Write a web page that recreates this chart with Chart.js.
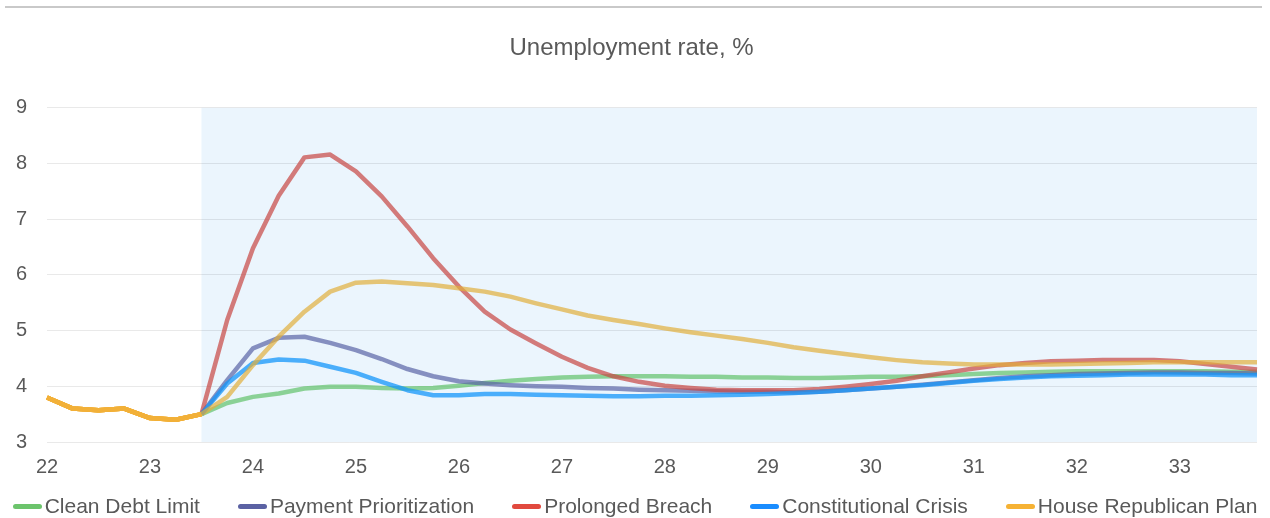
<!DOCTYPE html>
<html>
<head>
<meta charset="utf-8">
<title>Unemployment rate, %</title>
<script src="https://cdn.jsdelivr.net/npm/chart.js@4"></script>
<style>
  html, body { margin: 0; padding: 0; background: #ffffff; }
  #wrap { position: relative; width: 1270px; height: 518px; overflow: hidden; font-family: "Liberation Sans", Arial, sans-serif; }
  #topRule { position: absolute; left: 5px; top: 6px; width: 1257px; height: 2px; background: #c9c9c9; }
  #chart { position: absolute; left: 0; top: 0; }
  #legend { position: absolute; left: 0; top: 494px; width: 1270px; height: 24px; display: flex; justify-content: center; gap: 38px; }
  .item { display: flex; align-items: center; font-size: 21px; line-height: 24px; color: #595959; white-space: nowrap; }
  .swatch { width: 29px; height: 5px; border-radius: 3px; margin-right: 3px; }
</style>
</head>
<body>
<div id="wrap">
  <div id="topRule"></div>
  <canvas id="chart" width="1270" height="518"></canvas>
  <div id="legend"></div>
</div>
<script>
// Calendar years shown on the horizontal axis (two-digit), one category per quarter
const years = ['22', '23', '24', '25', '26', '27', '28', '29', '30', '31', '32', '33'];
const quarters = ['Q1', 'Q2', 'Q3', 'Q4'];
const periods = years.flatMap(y => quarters.map(q => y + ' ' + q));

// Projection period starts here (shaded)
const forecastStart = '23 Q3';

const seriesNames = ['Clean Debt Limit', 'Payment Prioritization', 'Prolonged Breach', 'Constitutional Crisis', 'House Republican Plan'];

// Unemployment rate, %, by quarter
const cleanDebtLimit = [
  3.80, 3.60, 3.57, 3.60, 3.43, 3.40, 3.50, 3.70, 3.81, 3.87, 3.96, 3.99,
  3.99, 3.97, 3.96, 3.97, 4.01, 4.06, 4.10, 4.13, 4.16, 4.17, 4.18, 4.18,
  4.18, 4.17, 4.17, 4.16, 4.16, 4.15, 4.15, 4.16, 4.17, 4.17, 4.18, 4.20,
  4.22, 4.24, 4.25, 4.26, 4.27, 4.27, 4.27, 4.27, 4.27, 4.27, 4.26, 4.26
];
const paymentPrioritization = [
  3.80, 3.60, 3.57, 3.60, 3.43, 3.40, 3.50, 4.11, 4.68, 4.87, 4.89, 4.78,
  4.65, 4.49, 4.31, 4.18, 4.09, 4.05, 4.02, 4.00, 3.99, 3.97, 3.96, 3.94,
  3.93, 3.92, 3.91, 3.90, 3.90, 3.89, 3.90, 3.93, 3.96, 3.99, 4.03, 4.07,
  4.11, 4.15, 4.18, 4.20, 4.22, 4.23, 4.24, 4.25, 4.25, 4.24, 4.24, 4.23
];
const prolongedBreach = [
  3.80, 3.60, 3.57, 3.60, 3.43, 3.40, 3.50, 5.19, 6.48, 7.42, 8.11, 8.16,
  7.86, 7.41, 6.87, 6.30, 5.79, 5.34, 5.02, 4.77, 4.53, 4.33, 4.18, 4.08,
  4.01, 3.97, 3.94, 3.93, 3.93, 3.93, 3.95, 3.99, 4.04, 4.10, 4.18, 4.25,
  4.32, 4.38, 4.42, 4.45, 4.46, 4.47, 4.47, 4.47, 4.45, 4.40, 4.35, 4.30
];
const constitutionalCrisis = [
  3.80, 3.60, 3.57, 3.60, 3.43, 3.40, 3.50, 4.05, 4.42, 4.48, 4.46, 4.35,
  4.24, 4.08, 3.93, 3.84, 3.84, 3.86, 3.86, 3.85, 3.84, 3.83, 3.82, 3.82,
  3.83, 3.83, 3.84, 3.85, 3.86, 3.88, 3.90, 3.93, 3.96, 3.99, 4.02, 4.06,
  4.10, 4.13, 4.16, 4.18, 4.19, 4.20, 4.21, 4.21, 4.21, 4.21, 4.20, 4.20
];
const houseRepublicanPlan = [
  3.80, 3.60, 3.57, 3.60, 3.43, 3.40, 3.50, 3.81, 4.38, 4.89, 5.34, 5.70,
  5.86, 5.88, 5.85, 5.82, 5.76, 5.70, 5.61, 5.49, 5.38, 5.27, 5.19, 5.12,
  5.04, 4.97, 4.91, 4.85, 4.78, 4.70, 4.64, 4.58, 4.52, 4.47, 4.43, 4.41,
  4.39, 4.39, 4.39, 4.39, 4.40, 4.41, 4.42, 4.43, 4.43, 4.43, 4.43, 4.43
];

// Vertical axis range and tick values
const yTicks = [3, 4, 5, 6, 7, 8, 9];

const seriesValues = [cleanDebtLimit, paymentPrioritization, prolongedBreach, constitutionalCrisis, houseRepublicanPlan];
const lineColors = [
  'rgba(100,195,110,0.72)',
  'rgba(90,100,165,0.70)',
  'rgba(200,70,65,0.70)',
  'rgba(20,150,250,0.75)',
  'rgba(225,175,60,0.70)'
];
const legendColors = ['#6cc46c', '#5b62a3', '#e1493e', '#1a8dff', '#f6b234'];
const historyColor = '#f2b038';

const textGray = '#595959';
const fontFamily = '"Liberation Sans", Arial, sans-serif';
const forecastIndex = periods.indexOf(forecastStart);

// Light blue band behind the projection period
const forecastBand = {
  id: 'forecastBand',
  beforeDraw(chart) {
    const { ctx, chartArea, scales } = chart;
    const x0 = scales.x.getPixelForValue(forecastIndex);
    ctx.save();
    ctx.fillStyle = '#ebf5fd';
    ctx.fillRect(x0, chartArea.top, chartArea.right - x0, chartArea.bottom - chartArea.top);
    ctx.restore();
  }
};

const datasets = seriesNames.map((name, i) => ({
  label: name,
  data: seriesValues[i],
  borderColor: lineColors[i],
  backgroundColor: lineColors[i],
  borderWidth: 4.5,
  pointRadius: 0,
  pointHoverRadius: 0,
  tension: 0,
  fill: false,
  borderJoinStyle: 'round',
  // the shared history is drawn as one solid line
  segment: {
    borderColor: ctx => ctx.p1DataIndex <= forecastIndex ? historyColor : undefined
  },
  order: seriesNames.length - i
}));

new Chart(document.getElementById('chart'), {
  type: 'line',
  data: { labels: periods, datasets },
  plugins: [forecastBand],
  options: {
    responsive: false,
    animation: false,
    events: [],
    layout: { padding: { left: 0, right: 7, top: 0, bottom: 40 } },
    plugins: {
      legend: { display: false },
      tooltip: { enabled: false },
      title: {
        display: true,
        text: 'Unemployment rate, %',
        color: textGray,
        font: { family: fontFamily, size: 24, weight: 'normal' },
        padding: { top: 34, bottom: 45 }
      }
    },
    scales: {
      x: {
        type: 'category',
        offset: false,
        grid: { display: false, drawTicks: false },
        border: { display: false },
        afterFit: axis => { axis.height = 36; },
        ticks: {
          autoSkip: false,
          maxRotation: 0,
          minRotation: 0,
          padding: 13,
          color: textGray,
          font: { family: fontFamily, size: 20 },
          callback: function (value, index) {
            const label = periods[index];
            return label.endsWith('Q1') ? label.split(' ')[0] : '';
          }
        }
      },
      y: {
        min: yTicks[0],
        max: yTicks[yTicks.length - 1],
        afterBuildTicks: (axis) => { axis.ticks = yTicks.map(v => ({ value: v })); },
        afterFit: axis => { axis.width = 47; },
        grid: { color: 'rgba(0,0,0,0.085)', lineWidth: 1, drawTicks: false },
        border: { display: false },
        ticks: {
          padding: 20,
          color: textGray,
          font: { family: fontFamily, size: 20 }
        }
      }
    }
  }
});

// Legend row
const legend = document.getElementById('legend');
seriesNames.forEach((name, i) => {
  const item = document.createElement('div');
  item.className = 'item';
  const sw = document.createElement('span');
  sw.className = 'swatch';
  sw.style.background = legendColors[i];
  item.appendChild(sw);
  item.appendChild(document.createTextNode(name));
  legend.appendChild(item);
});
</script>
</body>
</html>
